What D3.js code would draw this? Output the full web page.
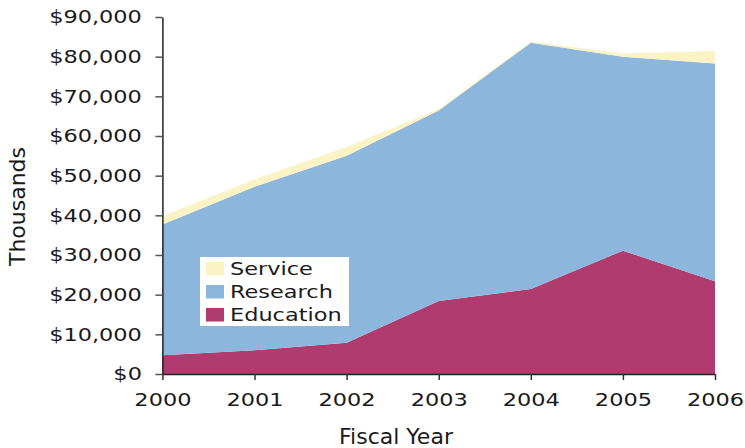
<!DOCTYPE html>
<html>
<head>
<meta charset="utf-8">
<script src="https://cdn.jsdelivr.net/npm/d3@7"></script>
<style>
  body { margin: 0; background: #fff; }
  svg { display: block; font-family: "DejaVu Sans", Verdana, sans-serif; }
</style>
</head>
<body>
<svg id="chart" width="745" height="448"></svg>
<script>
// funding by fiscal year, in thousands of dollars
var years = [2000, 2001, 2002, 2003, 2004, 2005, 2006];
var education = [4700, 6000, 7900, 18400, 21400, 31100, 23400];
var research = [33000, 41200, 47100, 48000, 62100, 48900, 54900];
var service = [2100, 1900, 2200, 400, 300, 800, 3100];
var yTicks = [0, 10000, 20000, 30000, 40000, 50000, 60000, 70000, 80000, 90000];

var keys = ["Education", "Research", "Service"];
var colors = {Education: "#b03b6e", Research: "#8db6dc", Service: "#faf3c5"};

var rows = years.map(function(y, i) {
  return {year: y, Education: education[i], Research: research[i], Service: service[i]};
});

var svg = d3.select("#chart"),
    margin = {top: 17, right: 30, bottom: 74, left: 162.4},
    width = +svg.attr("width") - margin.left - margin.right,
    height = +svg.attr("height") - margin.top - margin.bottom,
    g = svg.append("g").attr("transform", "translate(" + margin.left + "," + margin.top + ")");

var x = d3.scaleLinear().domain([2000, 2006]).range([0, 552.6]);
var y = d3.scaleLinear().domain([0, 90000]).range([height, 0]);

var stack = d3.stack().keys(keys)(rows);

var area = d3.area()
    .x(function(d) { return x(d.data.year); })
    .y0(function(d) { return y(d[0]); })
    .y1(function(d) { return y(d[1]); });

g.append("g")
  .selectAll("path")
  .data(stack)
  .enter().append("path")
    .attr("fill", function(d) { return colors[d.key]; })
    .attr("d", area);

var fmt = function(d) { return "$" + d3.format(",")(d); };

// tick labels use a wide face, so stretch them sideways
var yAxis = g.append("g")
    .call(d3.axisLeft(y).tickValues(yTicks).tickFormat(fmt).tickSize(7).tickSizeOuter(0));
yAxis.select(".domain").attr("stroke", "#222").attr("stroke-width", 1.5);
yAxis.selectAll(".tick line").attr("stroke", "#555").attr("stroke-width", 1.5);
yAxis.selectAll(".tick text")
    .attr("x", 0)
    .attr("dy", "0.34em")
    .attr("fill", "#1a1a1a")
    .attr("font-size", 17)
    .attr("font-family", "DejaVu Sans")
    .attr("text-anchor", "end")
    .attr("transform", "translate(-20.5,0) scale(1.32,1)");

var xAxis = g.append("g")
    .attr("transform", "translate(0," + height + ")")
    .call(d3.axisBottom(x).tickValues(years).tickFormat(d3.format("d")).tickSize(6).tickSizeOuter(0));
xAxis.select(".domain").attr("stroke", "#222").attr("stroke-width", 1.5);
xAxis.selectAll(".tick line").attr("stroke", "#333").attr("stroke-width", 1.5);
xAxis.selectAll(".tick text")
    .attr("y", 0)
    .attr("dy", 0)
    .attr("fill", "#1a1a1a")
    .attr("font-size", 17)
    .attr("font-family", "DejaVu Sans")
    .attr("text-anchor", "middle")
    .attr("transform", "translate(0,31.7) scale(1.32,1)");

svg.append("text")
    .attr("x", 396)
    .attr("y", 444)
    .attr("text-anchor", "middle")
    .attr("font-size", 22)
    .attr("fill", "#1a1a1a")
    .text("Fiscal Year");

svg.append("text")
    .attr("transform", "translate(25,206.5) rotate(-90)")
    .attr("text-anchor", "middle")
    .attr("font-size", 22)
    .attr("fill", "#1a1a1a")
    .text("Thousands");

// legend
var legend = svg.append("g").attr("transform", "translate(200,257)");
legend.append("rect")
    .attr("width", 149)
    .attr("height", 69)
    .attr("fill", "#fff");

var item = legend.selectAll(".item")
  .data(keys.slice().reverse())
  .enter().append("g")
    .attr("class", "item")
    .attr("transform", function(d, i) { return "translate(0," + i * 23 + ")"; });

item.append("rect")
    .attr("x", 6)
    .attr("y", 5)
    .attr("width", 18)
    .attr("height", 13.5)
    .attr("fill", function(d) { return colors[d]; });

item.append("text")
    .attr("transform", "translate(30,18) scale(1.32,1)")
    .attr("font-size", 17)
    .attr("fill", "#1a1a1a")
    .text(function(d) { return d; });
</script>
</body>
</html>
